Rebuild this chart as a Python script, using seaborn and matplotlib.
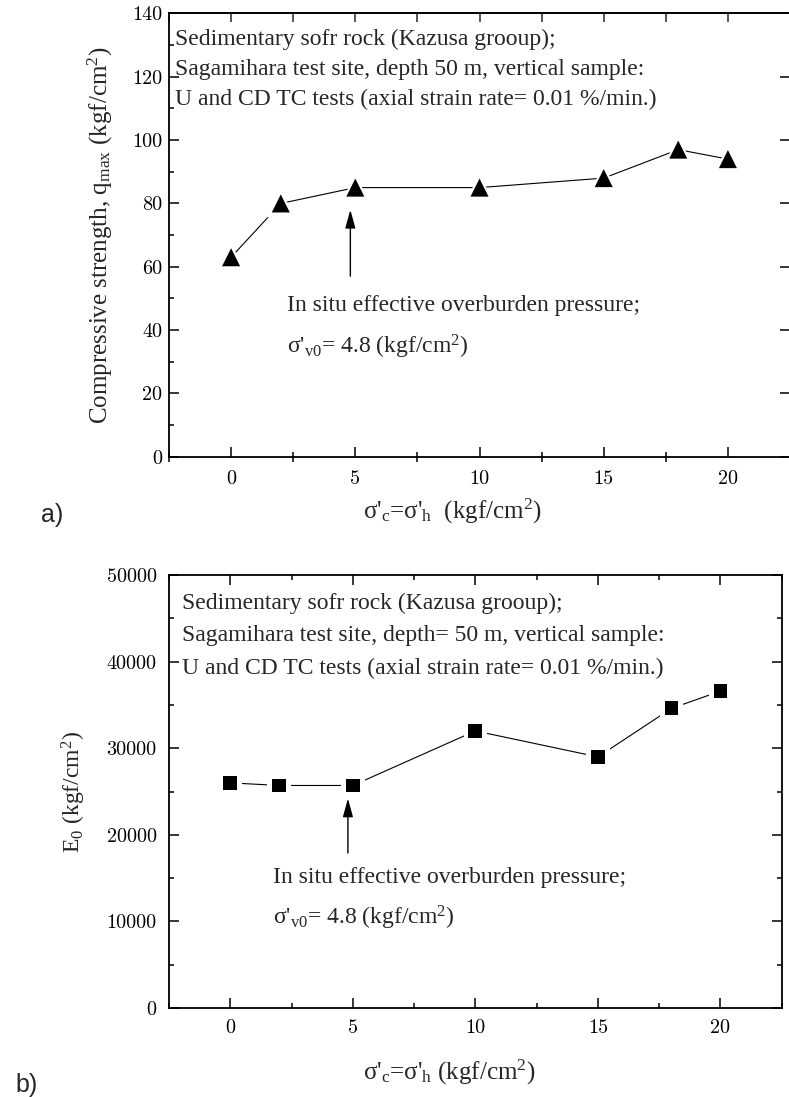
import matplotlib
matplotlib.use("Agg")
import matplotlib.pyplot as plt
from matplotlib.ticker import MultipleLocator
import seaborn as sns
import pandas as pd
import warnings

warnings.filterwarnings("ignore")

# Isotropic confining pressure sigma'_c = sigma'_h (kgf/cm^2)
confining = [0, 2, 5, 10, 15, 18, 20]
# Peak compressive strength q_max (kgf/cm^2)
q_max = [63, 80, 85, 85, 88, 97, 94]
# Initial Young's modulus E_0 (kgf/cm^2)
e_zero = [26000, 25700, 25700, 32000, 29000, 34600, 36600]
# In situ effective overburden pressure (kgf/cm^2)
sigma_v0 = 4.8

header_a = ["Sedimentary sofr rock (Kazusa grooup);",
            "Sagamihara test site, depth 50 m, vertical sample:",
            "U and CD TC tests (axial strain rate= 0.01 %/min.)"]
header_b = ["Sedimentary sofr rock (Kazusa grooup);",
            "Sagamihara test site, depth= 50 m, vertical sample:",
            "U and CD TC tests (axial strain rate= 0.01 %/min.)"]
note_1 = "In situ effective overburden pressure;"
note_2 = "σ'$_\\mathrm{v0}$= 4.8 (kgf/cm$^\\mathrm{2}$)"

sns.set_style("ticks")
plt.rcParams["font.family"] = ["Liberation Serif", "DejaVu Serif"]
plt.rcParams["mathtext.fontset"] = "custom"
plt.rcParams["mathtext.rm"] = "Liberation Serif"
plt.rcParams["mathtext.it"] = "Liberation Serif:italic"
plt.rcParams["mathtext.bf"] = "Liberation Serif:bold"
plt.rcParams["axes.linewidth"] = 1.3

df_a = pd.DataFrame({"p": confining, "v": q_max})
df_b = pd.DataFrame({"p": confining, "v": e_zero})

fig = plt.figure(figsize=(7.89, 10.97), dpi=100)
ax1 = fig.add_axes([0.2142, 0.5837, 0.7871, 0.4040])
ax2 = fig.add_axes([0.2142, 0.0811, 0.7766, 0.3947])


def draw_series(ax, df, marker, size):
    sns.lineplot(data=df, x="p", y="v", color="black", lw=0.8, ax=ax,
                 zorder=2, legend=False)
    # white halo leaves a small gap between the line and each marker
    sns.scatterplot(data=df, x="p", y="v", marker=marker, s=(size + 7) ** 2,
                    color="white", edgecolor="none", ax=ax, zorder=3,
                    legend=False)
    sns.scatterplot(data=df, x="p", y="v", marker=marker, s=size ** 2,
                    color="black", edgecolor="none", ax=ax, zorder=4,
                    legend=False)


def style_axes(ax, ymax, ymajor, yminor):
    ax.set_xlim(-2.5, 22.5)
    ax.set_ylim(0, ymax)
    ax.xaxis.set_major_locator(MultipleLocator(5))
    ax.xaxis.set_minor_locator(MultipleLocator(2.5))
    ax.yaxis.set_major_locator(MultipleLocator(ymajor))
    ax.yaxis.set_minor_locator(MultipleLocator(yminor))
    ax.tick_params(which="both", direction="in", top=True, right=True,
                   labelsize=14.5, labelfontfamily="cmr10", width=1.1,
                   colors="black")
    ax.tick_params(which="major", length=7)
    ax.tick_params(which="minor", length=3.8)
    for s in ax.spines.values():
        s.set_visible(True)
        s.set_color("black")
        s.set_linewidth(1.3)
    ax.set_facecolor("white")


# ---- a) compressive strength ----
draw_series(ax1, df_a, "^", 13)
style_axes(ax1, 140, 20, 10)
ax1.tick_params(axis="y", pad=5)
ax1.tick_params(axis="y", which="minor", right=False)
ax1.tick_params(axis="x", which="major", pad=10)
ax1.tick_params(axis="x", which="minor", direction="inout", length=7, top=False)
ax1.tick_params(axis="x", which="major", top=False)
top_ax = ax1.secondary_xaxis("top")
top_ax.xaxis.set_major_locator(MultipleLocator(2.5))
top_ax.tick_params(direction="in", length=6.5, width=1.1, labeltop=False)
top_ax.spines["top"].set_linewidth(1.3)

ax1.set_ylabel("Compressive strength, q$_\\mathrm{max}$ (kgf/cm$^\\mathrm{2}$)",
               fontsize=18)
ax1.yaxis.set_label_coords(-0.087, 0.5)
ax1.set_xlabel("σ'$_\\mathrm{c}$=σ'$_\\mathrm{h}$  (kgf/cm$^\\mathrm{2}$)",
               fontsize=18)
ax1.xaxis.set_label_coords(0.456, -0.09)

for i, line in enumerate(header_a):
    ax1.text(-2.24, 131.7 - 9.5 * i, line, fontsize=17, va="center", ha="left")
ax1.text(2.23, 47.9, note_1, fontsize=17, va="center", ha="left")
ax1.text(2.23, 34.7, note_2, fontsize=17, va="center", ha="left")
ax1.annotate("", xy=(sigma_v0, 78), xytext=(sigma_v0, 57),
             arrowprops=dict(arrowstyle="-|>,head_length=0.8,head_width=0.22",
                             color="black", lw=1.0, mutation_scale=14,
                             shrinkA=0, shrinkB=0))

# ---- b) initial Young's modulus ----
draw_series(ax2, df_b, "s", 10)
style_axes(ax2, 50000, 10000, 5000)
ax2.tick_params(axis="y", pad=9)
ax2.tick_params(axis="x", pad=8)
ax2.set_ylabel("E$_\\mathrm{0}$ (kgf/cm$^\\mathrm{2}$)", fontsize=17)
ax2.yaxis.set_label_coords(-0.132, 0.5)
ax2.set_xlabel("σ'$_\\mathrm{c}$=σ'$_\\mathrm{h}$ (kgf/cm$^\\mathrm{2}$)",
               fontsize=18)
ax2.xaxis.set_label_coords(0.457, -0.115)

for i, line in enumerate(header_b):
    ax2.text(-1.99, 46770 - 3750 * i, line, fontsize=17, va="center", ha="left")
ax2.text(1.73, 15130, note_1, fontsize=17, va="center", ha="left")
ax2.text(1.73, 10390, note_2, fontsize=17, va="center", ha="left")
ax2.annotate("", xy=(sigma_v0, 24200), xytext=(sigma_v0, 17900),
             arrowprops=dict(arrowstyle="-|>,head_length=0.8,head_width=0.22",
                             color="black", lw=1.0, mutation_scale=14,
                             shrinkA=0, shrinkB=0))

# panel letters
fig.text(52 / 789, 1 - 515 / 1097, "a)", fontsize=18, family="Liberation Sans",
         ha="center", va="center")
fig.text(27 / 789, 1 - 1085 / 1097, "b)", fontsize=18, family="Liberation Sans",
         ha="center", va="center")

fig.savefig("out.png", dpi=100, facecolor="white")
